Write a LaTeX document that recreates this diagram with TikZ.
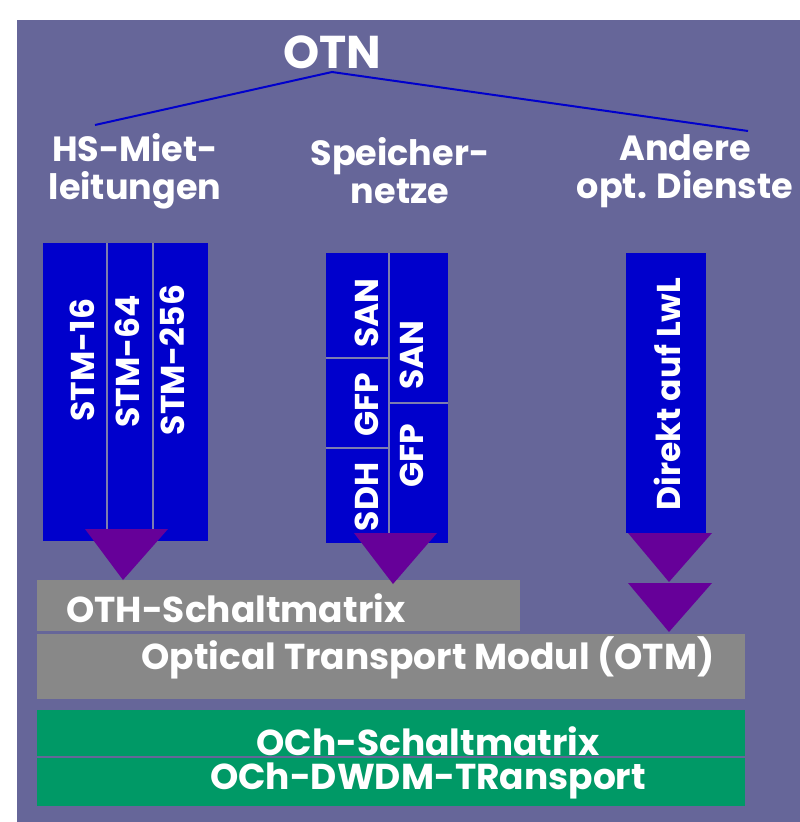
\documentclass[tikz,border=0pt]{standalone}
\usepackage{fontspec}
\setmainfont{Poppins}
\usetikzlibrary{positioning}
\definecolor{otnBack}{RGB}{102,102,153}
\definecolor{otnBlue}{RGB}{0,0,204}
\definecolor{otnViolet}{RGB}{102,0,153}
\definecolor{otnGrey}{RGB}{136,136,136}
\definecolor{otnGreen}{RGB}{0,153,102}
\definecolor{otnRule}{RGB}{125,125,175}
\tikzset{
    layerBox/.style={
        inner sep=0pt,
        outer sep=0pt,
        anchor=north west
    },
    headText/.style={
        text=white,
        align=center,
        inner sep=0pt,
        font=\bfseries\fontsize{35}{38}\selectfont
    },
    columnText/.style={
        text=white,
        rotate=90,
        inner sep=0pt,
        font=\bfseries\fontsize{33}{33}\selectfont
    },
    layerText/.style={
        text=white,
        inner sep=0pt,
        font=\bfseries\fontsize{36}{36}\selectfont
    },
    treeLine/.style={
        draw=otnBlue,
        line width=2pt
    },
    dividerLine/.style={
        draw=otnRule,
        line width=2pt
    },
    flowHead/.style={
        fill=otnViolet
    }
}

\begin{document}
\begin{tikzpicture}[x=1pt,y=-1pt]
    \useasboundingbox (0,0) rectangle (800,822);
    \fill[otnBack] (17,20) rectangle (800,822);

    % Baum oben
    \node[headText,font=\bfseries\fontsize{46}{46}\selectfont] (otn) at (332,52) {OTN};
    \coordinate (otnApex) at (332,72);
    \coordinate (hsEnd) at (95,125);
    \coordinate (otherEnd) at (748,131);
    \draw[treeLine] (hsEnd) -- (otnApex) -- (otherEnd);

    \node[headText] (hsLabel) at (135,171) {HS-Miet-\\leitungen};
    \node[headText] (storeLabel) at (400,171) {Speicher-\\netze};
    \node[headText] (otherLabel) at (685,171) {Andere\\opt. Dienste};

    % Mietleitungen
    \node[layerBox,fill=otnBlue,minimum width=165pt,minimum height=298pt] (hsBox) at (43,243) {};
    \draw[dividerLine] ([xshift=64pt]hsBox.north west) -- ([xshift=64pt]hsBox.south west);
    \draw[dividerLine] ([xshift=110pt]hsBox.north west) -- ([xshift=110pt]hsBox.south west);
    \node[columnText] (stm16) at (82,360) {STM-16};
    \node[columnText] (stm64) at (127,361) {STM-64};
    \node[columnText] (stm256) at (172,360) {STM-256};

    % Speichernetze
    \node[layerBox,fill=otnBlue,minimum width=122pt,minimum height=290pt] (storeBox) at (326,253) {};
    \draw[dividerLine] ([xshift=63pt]storeBox.north west) -- ([xshift=63pt]storeBox.south west);
    \draw[dividerLine] ([yshift=-105pt]storeBox.north west) -- +(63,0);
    \draw[dividerLine] ([yshift=-195pt]storeBox.north west) -- +(63,0);
    \draw[dividerLine] ([xshift=63pt,yshift=-150pt]storeBox.north west) -- ([yshift=-150pt]storeBox.north east);
    \node[columnText] (sanLeft) at (367,313) {SAN};
    \node[columnText] (gfpLeft) at (367,405) {GFP};
    \node[columnText] (sdh) at (367,497) {SDH};
    \node[columnText] (sanRight) at (412,355) {SAN};
    \node[columnText] (gfpRight) at (412,456) {GFP};

    % andere Dienste
    \node[layerBox,fill=otnBlue,minimum width=80pt,minimum height=280pt] (otherBox) at (626,253) {};
    \node[columnText] (lwl) at (667,394) {Direkt auf LwL};

    % Schichten
    \node[layerBox,fill=otnGrey,minimum width=483pt,minimum height=51pt] (othBox) at (37,580) {};
    \node[layerBox,fill=otnGrey,minimum width=708pt,minimum height=65pt] (otmBox) at (37,634) {};
    \node[layerBox,fill=otnGreen,minimum width=708pt,minimum height=46pt] (ochBox) at (37,710) {};
    \node[layerBox,fill=otnGreen,minimum width=708pt,minimum height=48pt] (dwdmBox) at (37,758) {};
    \node[layerText,anchor=west] (othText) at (66,608) {OTH-Schaltmatrix};
    \node[layerText] (otmText) at (428,658) {Optical Transport Modul (OTM)};
    \node[layerText] (ochText) at (428,741) {OCh-Schaltmatrix};
    \node[layerText] (dwdmText) at (428,781) {OCh-DWDM-TRansport};

    % Pfeilspitzen
    \fill[flowHead] (85,529) -- (168,529) -- (123,580) -- cycle;
    \fill[flowHead] (354,533) -- (437,533) -- (393,584) -- cycle;
    \fill[flowHead] (628,533) -- (712,533) -- (669,582) -- cycle;
    \fill[flowHead] (628,583) -- (712,583) -- (669,632) -- cycle;
\end{tikzpicture}
\end{document}
